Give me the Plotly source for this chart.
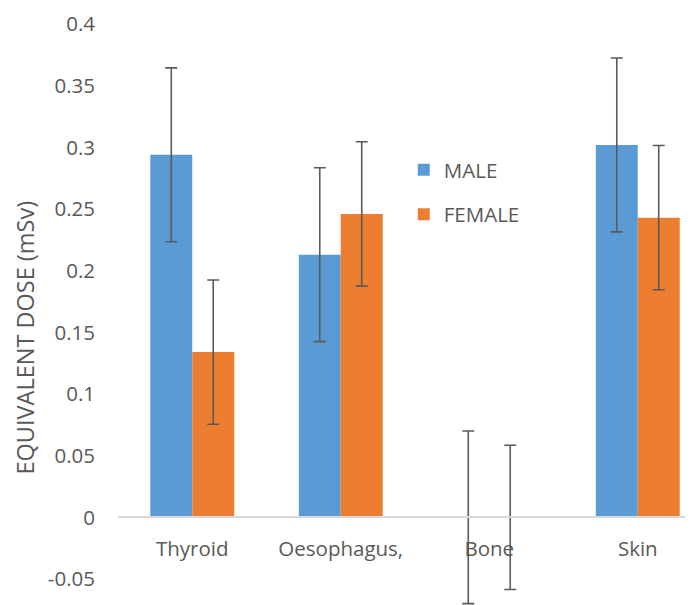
import plotly.graph_objects as go

categories = ["Thyroid", "Oesophagus,", "Bone", "Skin"]
male = [0.294, 0.213, 0.0, 0.302]
male_err = [0.0705, 0.0705, 0.0700, 0.0705]
female = [0.134, 0.246, 0.0, 0.243]
female_err = [0.0585, 0.0585, 0.0585, 0.0585]
y_ticks = [-0.05, 0, 0.05, 0.1, 0.15, 0.2, 0.25, 0.3, 0.35, 0.4]
y_tick_text = ["-0.05", "0", "0.05", "0.1", "0.15", "0.2", "0.25", "0.3", "0.35", "0.4"]
y_title = "EQUIVALENT DOSE (mSv)"

FONT = "Open Sans"
GRAY = "#595959"
ERR = "#5a5a5a"

fig = go.Figure()
fig.add_trace(go.Bar(
    x=categories, y=male, name="MALE", legendgroup="m",
    marker=dict(color="#5B9BD5", line=dict(width=0)),
    error_y=dict(type="data", array=male_err, visible=True, color=ERR, thickness=1.6, width=6),
))
fig.add_trace(go.Bar(
    x=categories, y=female, name="FEMALE", legendgroup="f",
    marker=dict(color="#ED7D31", line=dict(width=0)),
    error_y=dict(type="data", array=female_err, visible=True, color=ERR, thickness=1.6, width=6),
))

fig.add_annotation(
    text=y_title, textangle=-90, showarrow=False,
    xref="paper", yref="paper", x=(16 - 110) / 575, y=(597 - 329.5) / 595,
    xanchor="center", yanchor="middle",
    font=dict(family=FONT, size=23.5, color=GRAY),
)

fig.update_layout(
    width=685, height=597, autosize=False,
    margin=dict(l=110, r=0, t=2, b=0),
    paper_bgcolor="white", plot_bgcolor="white",
    barmode="group", bargap=0.435, bargroupgap=0,
    font=dict(family=FONT, size=20.5, color=GRAY),
    legend=dict(
        x=0.497, y=0.765, xanchor="left", yanchor="top",
        font=dict(family=FONT, size=20.5, color=GRAY),
        bgcolor="rgba(0,0,0,0)", tracegroupgap=15,
    ),
    xaxis=dict(
        type="category", range=[-0.5, 3.372],
        anchor="free", position=(605 - 517.3) / 595,
        showline=True, linecolor="#D9D9D9", linewidth=1.5,
        showgrid=False, ticks="", ticklabelstandoff=13,
        tickfont=dict(family=FONT, size=20.5, color=GRAY),
    ),
    yaxis=dict(
        range=[-0.0711, 0.4114],
        tickvals=y_ticks, ticktext=y_tick_text,
        showgrid=False, zeroline=False, showline=False, ticks="",
        ticklabelstandoff=22,
        tickfont=dict(family=FONT, size=20.5, color=GRAY),
    ),
)

fig.write_html("out.html")
